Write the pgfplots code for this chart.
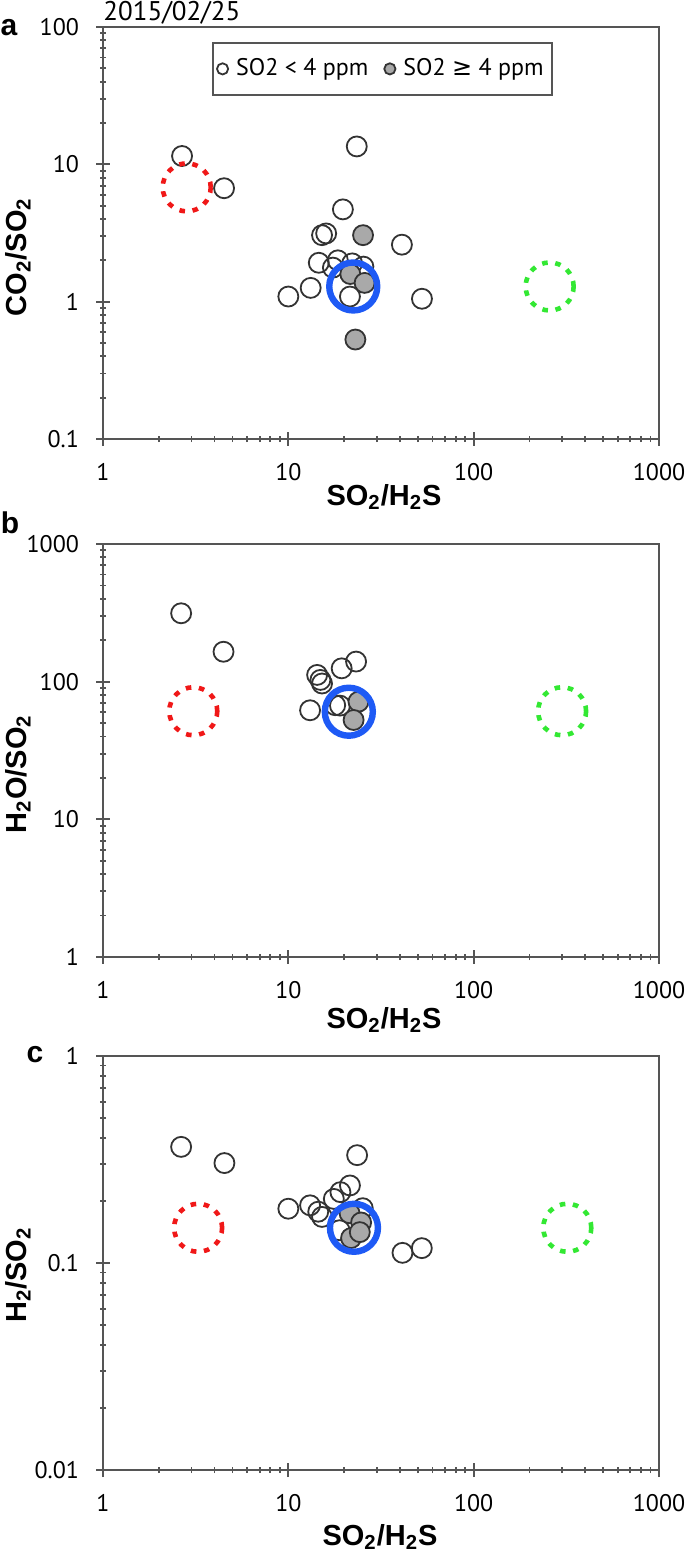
\documentclass[border=0pt]{standalone}
\usepackage{pgfplots}
\pgfplotsset{compat=1.18}
\usepackage{fontspec}
\setmainfont{PT Sans}
\newfontfamily\labfont{Liberation Sans}
\newfontfamily\symfont{DejaVu Sans}
\definecolor{ringred}{HTML}{F01818}
\definecolor{ringgreen}{HTML}{33E833}
\definecolor{ringblue}{HTML}{1E5AF5}
\definecolor{dotfill}{HTML}{A9A9A9}
\definecolor{axgray}{HTML}{555555}

\pgfplotsset{
  every axis/.append style={
    scale only axis, width=278pt, xmin=1, xmax=1000,
    axis line style={axgray, line width=1pt},
    tick style={axgray, line width=0.9pt},
    tick align=center, major tick length=7pt, minor tick length=3pt,
    tick pos=left,
    log ticks with fixed point,
    /pgf/number format/1000 sep={},
    /pgf/number format/assume math mode=true,
    tick label style={font=\fontsize{12}{14}\selectfont},
    xticklabel style={yshift=-5pt},
    yticklabel style={xshift=-5pt},
    clip=false,
  },
}

\begin{document}
\begin{tikzpicture}
\useasboundingbox (0,0) rectangle (342.5pt,-779pt);

% panel a
\begin{loglogaxis}[at={(51.5pt,-219.5pt)}, anchor=south west, height=206pt,
  ymin=0.1, ymax=100,
  legend columns=2, legend cell align=left,
  legend image post style={mark size=2.8pt},
  legend style={at={(rel axis cs:0.196,0.964)}, anchor=north west, draw=axgray, line width=1pt,
    font=\fontsize{12}{14}\selectfont, inner xsep=2pt, inner ysep=6pt,
    /tikz/every odd column/.append style={column sep=2pt},
    /tikz/every even column/.append style={column sep=6pt}}]
\addplot[only marks, mark=o, mark size=5pt, mark options={draw=black!80, line width=0.9pt}]
  coordinates {(2.67,11.5) (4.5,6.7) (23.4,13.5) (19.7,4.7) (15.2,3.05) (16.0,3.14)
  (41,2.6) (14.6,1.92) (18.5,2.0) (17.4,1.77) (22.1,1.9) (25.4,1.8) (13.2,1.26) (10.0,1.09)
  (21.5,1.09) (52.6,1.05)};
\addlegendentry{SO2 < 4 ppm}
\addplot[only marks, mark=*, mark size=5pt, mark options={draw=black!80, fill=dotfill, line width=0.9pt}]
  coordinates {(25.3,3.05) (21.6,1.59) (25.8,1.37) (23.0,0.53)};
\addlegendentry{SO2 {\symfont ≥} 4 ppm}
\addplot[forget plot, only marks, mark=o, mark size=12pt, mark options={draw=ringred, line width=2.3pt, dash pattern=on 2.8pt off 3.8pt}]
  coordinates {(2.83,6.8)};
\addplot[forget plot, only marks, mark=o, mark size=12pt, mark options={draw=ringgreen, line width=2.3pt, dash pattern=on 2.8pt off 3.8pt}]
  coordinates {(257,1.29)};
\addplot[forget plot, only marks, mark=o, mark size=12pt, mark options={draw=ringblue, line width=3.2pt}]
  coordinates {(22.4,1.29)};
\node[anchor=base west, inner sep=0pt, yshift=3pt, font=\fontsize{13.5}{15}\selectfont] at (rel axis cs:0,1) {2015/02/25};
\end{loglogaxis}

% panel b
\begin{loglogaxis}[at={(51.5pt,-478.5pt)}, anchor=south west, height=206.5pt,
  ymin=1, ymax=1000]
\addplot[only marks, mark=o, mark size=5pt, mark options={draw=black!80, line width=0.9pt}]
  coordinates {(2.64,314) (4.47,165) (14.3,112) (14.9,103) (15.2,97) (19.4,125)
  (23.2,140) (13.1,62) (17.9,67.5) (19.0,67)};
\addplot[only marks, mark=*, mark size=5pt, mark options={draw=black!80, fill=dotfill, line width=0.9pt}]
  coordinates {(23.9,71.6) (22.5,52.7)};
\addplot[only marks, mark=o, mark size=12pt, mark options={draw=ringred, line width=2.3pt, dash pattern=on 2.8pt off 3.8pt}]
  coordinates {(3.07,61)};
\addplot[only marks, mark=o, mark size=12pt, mark options={draw=ringgreen, line width=2.3pt, dash pattern=on 2.8pt off 3.8pt}]
  coordinates {(300,61)};
\addplot[only marks, mark=o, mark size=12pt, mark options={draw=ringblue, line width=3.2pt}]
  coordinates {(21.2,60.5)};
\end{loglogaxis}

% panel c
\begin{loglogaxis}[at={(51.5pt,-735pt)}, anchor=south west, height=207pt,
  ymin=0.01, ymax=1]
\addplot[only marks, mark=o, mark size=5pt, mark options={draw=black!80, line width=0.9pt}]
  coordinates {(2.64,0.364) (4.52,0.304) (23.5,0.332) (21.5,0.237) (19.1,0.22)
  (17.6,0.204) (10.0,0.183) (13.1,0.19) (14.5,0.177) (15.2,0.167) (25.2,0.184) (18.9,0.144)
  (41.3,0.112) (52.5,0.118)};
\addplot[only marks, mark=*, mark size=5pt, mark options={draw=black!80, fill=dotfill, line width=0.9pt}]
  coordinates {(21.4,0.174) (24.7,0.157) (21.8,0.132) (24.3,0.141)};
\addplot[only marks, mark=o, mark size=12pt, mark options={draw=ringred, line width=2.3pt, dash pattern=on 2.8pt off 3.8pt}]
  coordinates {(3.26,0.148)};
\addplot[only marks, mark=o, mark size=12pt, mark options={draw=ringgreen, line width=2.3pt, dash pattern=on 2.8pt off 3.8pt}]
  coordinates {(320,0.148)};
\addplot[only marks, mark=o, mark size=12pt, mark options={draw=ringblue, line width=3.2pt}]
  coordinates {(22.6,0.148)};
\end{loglogaxis}

% axis titles and panel letters
\tikzset{lab/.style={font=\labfont\bfseries\fontsize{14.5}{16}\selectfont, inner sep=0pt}}
\node[lab] at (192pt,-248.5pt) {SO\textsubscript{2}/H\textsubscript{2}S};
\node[lab] at (192pt,-510pt) {SO\textsubscript{2}/H\textsubscript{2}S};
\node[lab] at (190pt,-768.5pt) {SO\textsubscript{2}/H\textsubscript{2}S};
\node[lab, rotate=90] at (9pt,-128.5pt) {CO\textsubscript{2}/SO\textsubscript{2}};
\node[lab, rotate=90] at (9pt,-387pt) {H\textsubscript{2}O/SO\textsubscript{2}};
\node[lab, rotate=90] at (9pt,-637.5pt) {H\textsubscript{2}/SO\textsubscript{2}};
\node[lab, font=\labfont\bfseries\fontsize{15}{16}\selectfont] at (4.5pt,-14pt) {a};
\node[lab, font=\labfont\bfseries\fontsize{15}{16}\selectfont] at (5pt,-261.5pt) {b};
\node[lab, font=\labfont\bfseries\fontsize{15}{16}\selectfont] at (17.5pt,-527.5pt) {c};
\end{tikzpicture}
\end{document}
